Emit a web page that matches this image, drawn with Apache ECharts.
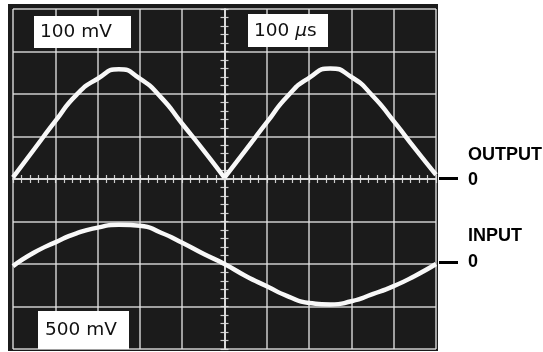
<!DOCTYPE html>
<html>
<head>
<meta charset="utf-8">
<script src="https://cdn.jsdelivr.net/npm/echarts@6/dist/echarts.min.js"></script>
<style>
html,body{margin:0;padding:0;background:#fff;}
#chart{width:543px;height:352px;}
</style>
</head>
<body>
<div id="chart"></div>
<script>
// Time base: 100 µs/div, trigger at centre of screen
const timeUs = [-500,-450,-400,-350,-300,-250,-200,-150,-100,-50,0,50,100,150,200,250,300,350,400,450,500];
// OUTPUT trace (100 mV/div), full-wave rectified
const outputMv = [4,70,136,198,236,258,236,192,130,68,3,68,133,196,238,260,240,196,136,72,10];
// INPUT trace (500 mV/div)
const inputMv = [-25,135,255,360,428,462,450,368,250,120,0,-140,-262,-380,-458,-475,-438,-355,-260,-140,0];
// Scale labels
const scaleLabels = ['100 mV', '100 µs', '500 mV'];
const traceLabels = ['OUTPUT', 'INPUT'];

const OUT_MV_PER_DIV = 100;
const IN_MV_PER_DIV = 500;
const IN_ZERO_DIV = -2;

const outPts = timeUs.map((t, i) => [t, outputMv[i] / OUT_MV_PER_DIV]);
const inPts = timeUs.map((t, i) => [t, inputMv[i] / IN_MV_PER_DIV + IN_ZERO_DIV]);
const cusp = timeUs.indexOf(0);

const gridCol = 'rgba(225,225,225,0.9)';
const traceCol = '#f8f8f8';

function xAx(pos, main) {
  return {
    type: 'value', min: -500, max: 500, interval: 100, position: pos,
    axisLine: { show: true, onZero: true, onZeroAxisIndex: 0, lineStyle: { color: gridCol, width: 1.5 } },
    axisTick: { show: true, length: 4, lineStyle: { color: gridCol, width: 1.2 } },
    minorTick: { show: true, splitNumber: 5, length: 4, lineStyle: { color: gridCol, width: 1.2 } },
    axisLabel: { show: false },
    splitLine: { show: main, lineStyle: { color: gridCol, width: 1.5 } },
    minorSplitLine: { show: false }
  };
}
function yAx(pos, main) {
  return {
    type: 'value', min: -4, max: 4, interval: 1, position: pos,
    axisLine: { show: true, onZero: true, onZeroAxisIndex: 0, lineStyle: { color: gridCol, width: 1.5 } },
    axisTick: { show: true, length: 4, lineStyle: { color: gridCol, width: 1.2 } },
    minorTick: { show: true, splitNumber: 5, length: 4, lineStyle: { color: gridCol, width: 1.2 } },
    axisLabel: { show: false },
    splitLine: { show: main, lineStyle: { color: gridCol, width: 1.5 } },
    minorSplitLine: { show: false }
  };
}

const boxFont = '18.5px "DejaVu Sans"';
const lblFont = 'bold 18px "Liberation Sans", Arial, sans-serif';

const chart = echarts.init(document.getElementById('chart'), null, { renderer: 'canvas' });
chart.setOption({
  animation: false,
  backgroundColor: '#ffffff',
  grid: { left: 13, right: 107, top: 9, bottom: 3, containLabel: false },
  xAxis: [xAx('bottom', true), xAx('top', false)],
  yAxis: [yAx('left', true), yAx('right', false)],
  graphic: [
    { type: 'rect', z: -10, shape: { x: 8, y: 4, width: 430, height: 347 }, style: { fill: '#1b1b1b' } },
    // scale boxes
    { type: 'rect', z: 100, shape: { x: 34, y: 16, width: 97, height: 32 }, style: { fill: '#ffffff' } },
    { type: 'text', z: 101, x: 40, y: 32, style: { text: scaleLabels[0], font: boxFont, fill: '#111', verticalAlign: 'middle' } },
    { type: 'rect', z: 100, shape: { x: 248, y: 14, width: 80, height: 33 }, style: { fill: '#ffffff' } },
    { type: 'text', z: 101, x: 254, y: 31, style: {
        text: '{a|100 }{b|µ}{a|s}', verticalAlign: 'middle', fill: '#111',
        rich: { a: { font: boxFont, fill: '#111' }, b: { font: 'italic ' + boxFont, fill: '#111' } } } },
    { type: 'rect', z: 100, shape: { x: 38, y: 311, width: 91, height: 38 }, style: { fill: '#ffffff' } },
    { type: 'text', z: 101, x: 45, y: 330, style: { text: scaleLabels[2], font: boxFont, fill: '#111', verticalAlign: 'middle' } },
    // trace labels
    { type: 'text', z: 101, x: 468, y: 155, style: { text: traceLabels[0], font: lblFont, fill: '#000', verticalAlign: 'middle' } },
    { type: 'rect', z: 101, shape: { x: 439, y: 177, width: 19, height: 3 }, style: { fill: '#000' } },
    { type: 'text', z: 101, x: 468, y: 180, style: { text: '0', font: lblFont, fill: '#000', verticalAlign: 'middle' } },
    { type: 'text', z: 101, x: 468, y: 236, style: { text: traceLabels[1], font: lblFont, fill: '#000', verticalAlign: 'middle' } },
    { type: 'rect', z: 101, shape: { x: 439, y: 261, width: 19, height: 3 }, style: { fill: '#000' } },
    { type: 'text', z: 101, x: 468, y: 262, style: { text: '0', font: lblFont, fill: '#000', verticalAlign: 'middle' } }
  ],
  series: [
    { type: 'line', data: outPts.slice(0, cusp + 1), smooth: 0.6, symbol: 'none',
      lineStyle: { color: traceCol, width: 4.5 }, z: 5 },
    { type: 'line', data: outPts.slice(cusp), smooth: 0.6, symbol: 'none',
      lineStyle: { color: traceCol, width: 4.5 }, z: 5 },
    { type: 'line', data: inPts, smooth: 0.6, symbol: 'none',
      lineStyle: { color: traceCol, width: 4.5 }, z: 5 }
  ]
});
</script>
</body>
</html>
